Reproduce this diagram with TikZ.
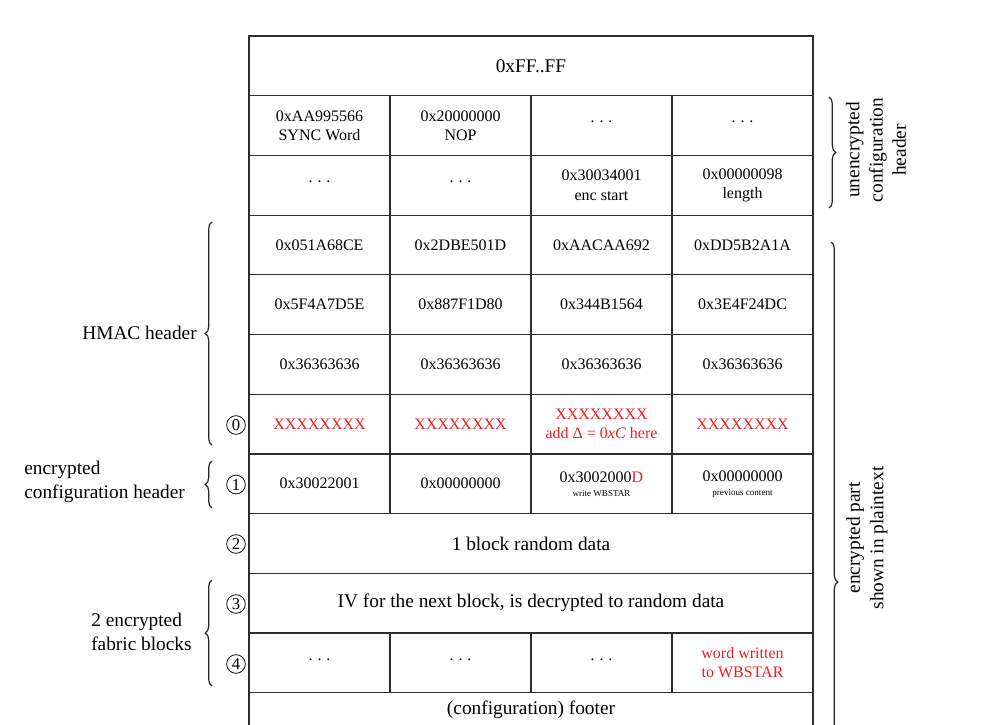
\documentclass[tikz,border=0pt]{standalone}
\usepackage{fontspec}
\setmainfont{Liberation Serif}
\usetikzlibrary{decorations.pathreplacing}
\definecolor{myred}{RGB}{235,30,35}
\definecolor{gridc}{RGB}{45,45,45}
\newcommand{\mydots}{\raisebox{2pt}[0pt][0pt]{.\kern3.6pt.\kern3.6pt.}}
\begin{document}
\begin{tikzpicture}[x=0.75pt,y=-0.75pt,
  cell/.style={draw=gridc, line width=0.9pt, minimum width=105.75pt, minimum height=44.775pt,
    inner sep=0pt, outer sep=0pt, align=center, font=\fontsize{12}{14.5}\selectfont},
  wide/.style={cell, minimum width=423pt, font=\fontsize{14.5}{17}\selectfont},
  redtext/.style={text=myred},
  label/.style={font=\fontsize{14.5}{17.5}\selectfont, inner sep=0pt},
  num/.style={circle, draw=black, line width=0.6pt, inner sep=0pt, minimum size=14pt,
    font=\fontsize{12.5}{12.5}\selectfont},
  bracestyle/.style={decorate, decoration={brace, amplitude=5pt}, line width=0.9pt, draw=black!85}
]
\useasboundingbox (0,0) rectangle (998,724);
\clip (0,0) rectangle (998,724);
% row 0
\node[wide] (r0) at (531,65.85) {0xFF..FF};
% row 1
\node[cell] (r1c1) at (319.5,125.55) {0xAA995566\\SYNC Word};
\node[cell] (r1c2) at (460.5,125.55) {0x20000000\\NOP};
\node[cell] (r1c3) at (601.5,125.55) {\mydots};
\node[cell] (r1c4) at (742.5,125.55) {\mydots};
% row 2
\node[cell] (r2c1) at (319.5,185.25) {\mydots};
\node[cell] (r2c2) at (460.5,185.25) {\mydots};
\node[cell] (r2c3) at (601.5,185.25) {0x30034001\\enc start};
\node[cell] (r2c4) at (742.5,185.25) {0x00000098\\length};
% row 3
\node[cell] (r3c1) at (319.5,244.95) {0x051A68CE};
\node[cell] (r3c2) at (460.5,244.95) {0x2DBE501D};
\node[cell] (r3c3) at (601.5,244.95) {0xAACAA692};
\node[cell] (r3c4) at (742.5,244.95) {0xDD5B2A1A};
% row 4
\node[cell] (r4c1) at (319.5,304.65) {0x5F4A7D5E};
\node[cell] (r4c2) at (460.5,304.65) {0x887F1D80};
\node[cell] (r4c3) at (601.5,304.65) {0x344B1564};
\node[cell] (r4c4) at (742.5,304.65) {0x3E4F24DC};
% row 5
\node[cell] (r5c1) at (319.5,364.35) {0x36363636};
\node[cell] (r5c2) at (460.5,364.35) {0x36363636};
\node[cell] (r5c3) at (601.5,364.35) {0x36363636};
\node[cell] (r5c4) at (742.5,364.35) {0x36363636};
% row 6
\node[cell, redtext] (r6c1) at (319.5,424.05) {XXXXXXXX};
\node[cell, redtext] (r6c2) at (460.5,424.05) {XXXXXXXX};
\node[cell, redtext] (r6c3) at (601.5,424.05) {XXXXXXXX\\add Δ = 0\textit{xC} here};
\node[cell, redtext] (r6c4) at (742.5,424.05) {XXXXXXXX};
% row 7
\node[cell] (r7c1) at (319.5,483.75) {0x30022001};
\node[cell] (r7c2) at (460.5,483.75) {0x00000000};
\node[cell] (r7c3) at (601.5,483.75) {0x3002000\textcolor{myred}{D}\\[-4pt]{\fontsize{6.8}{7}\selectfont write WBSTAR}};
\node[cell] (r7c4) at (742.5,483.75) {0x00000000\\[-4pt]{\fontsize{6.8}{7}\selectfont previous content}};
% row 8, 9
\node[wide] (r8) at (531,543.45) {1 block random data};
\node[wide] (r9) at (531,603.15) {IV for the next block, is decrypted to random data};
% row 10
\node[cell] (r10c1) at (319.5,662.85) {\mydots};
\node[cell] (r10c2) at (460.5,662.85) {\mydots};
\node[cell] (r10c3) at (601.5,662.85) {\mydots};
\node[cell, redtext] (r10c4) at (742.5,662.85) {word written\\to WBSTAR};
% row 11 footer
\node[wide] (r11) at (531,722.55) {};
\node[label] (foot) at (531,710) {(configuration) footer};
% circled numbers
\node[num] (n0) at (236,425) {0};
\node[num] (n1) at (236,484.5) {1};
\node[num] (n2) at (236,544) {2};
\node[num] (n3) at (236,604) {3};
\node[num] (n4) at (236,664) {4};
% left braces
\coordinate (hb1) at (212,445); \coordinate (hb2) at (212,222);
\coordinate (eb1) at (212,508); \coordinate (eb2) at (212,461);
\coordinate (fb1) at (212,686); \coordinate (fb2) at (212,580);
\draw[bracestyle] (hb1) -- (hb2);
\draw[bracestyle] (eb1) -- (eb2);
\draw[bracestyle] (fb1) -- (fb2);
\node[label, anchor=east] (hmac) at (197,333) {HMAC header};
\node[label, anchor=west, align=left] (ench) at (24,482) {encrypted\\configuration header};
\node[label, anchor=west, align=left] (fab) at (91,632) {2 encrypted\\fabric blocks};
% right braces
\coordinate (ub1) at (829,97); \coordinate (ub2) at (829,208);
\coordinate (pb1) at (831,242); \coordinate (pb2) at (831,922);
\draw[bracestyle] (ub1) -- (ub2);
\draw[bracestyle] (pb1) -- (pb2);
\node[label, rotate=90, align=center] (unenc) at (876,150) {unencrypted\\configuration\\header};
\node[label, rotate=90, align=center] (plain) at (867,538) {encrypted part\\shown in plaintext};
\end{tikzpicture}
\end{document}
